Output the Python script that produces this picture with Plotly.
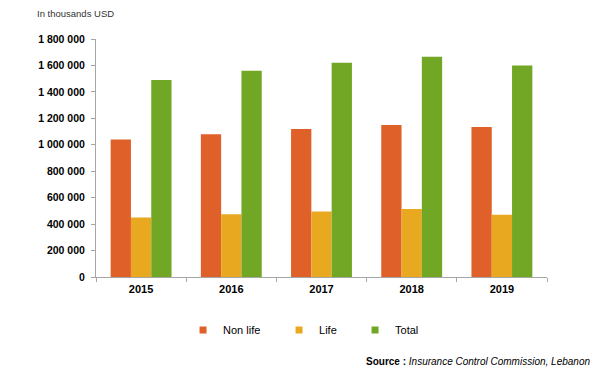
import plotly.graph_objects as go

years = ["2015", "2016", "2017", "2018", "2019"]
non_life = [1040000, 1080000, 1120000, 1150000, 1135000]
life = [450000, 475000, 495000, 515000, 470000]
total = [1490000, 1560000, 1620000, 1665000, 1600000]

series_names = ["Non life", "Life", "Total"]
series_values = [non_life, life, total]
colors = ["#E0602A", "#E8A820", "#72A625"]
legend_widths = [51, 31, None]

FONT = "Liberation Sans, Arial, sans-serif"

fig = go.Figure()
for name, vals, col in zip(series_names, series_values, colors):
    fig.add_trace(go.Bar(
        x=years, y=vals, name=name, marker_color=col,
        marker_line_width=0, showlegend=False, legendgroup=name,
    ))
for name, col, lw in zip(series_names, colors, legend_widths):
    fig.add_trace(go.Scatter(
        x=[None], y=[None], mode="markers", name=name, legendgroup=name,
        marker=dict(symbol="square", size=7, color=col), legendwidth=lw,
    ))

# page body has an 8px default margin: size the figure to fit the window
fig.update_layout(
    width=592, height=363,
    margin=dict(l=88, r=53, t=31, b=94),
    paper_bgcolor="white", plot_bgcolor="white",
    barmode="group", bargap=0.325, bargroupgap=0,
    separators=". ",
    font=dict(family=FONT, size=11, color="#000000"),
    showlegend=True,
    legend=dict(
        orientation="h", x=0.193, xanchor="left", y=-0.223, yanchor="middle",
        font=dict(family=FONT, size=11, color="#000000"),
        itemwidth=30, bgcolor="rgba(0,0,0,0)",
    ),
    xaxis=dict(
        type="category", showline=True, linecolor="#A6A6A6", linewidth=1,
        ticks="outside", ticklen=4, tickcolor="#A6A6A6", tickson="boundaries",
        ticklabelstandoff=2,
        showgrid=False, tickfont=dict(family=FONT, size=11, color="#000000", weight="bold"),
    ),
    yaxis=dict(
        range=[0, 1800000], dtick=200000, tickformat=",d",
        showline=True, linecolor="#A6A6A6", linewidth=1,
        ticks="outside", ticklen=4, tickcolor="#A6A6A6",
        ticklabelstandoff=4,
        showgrid=False, zeroline=False,
        tickfont=dict(family=FONT, size=10.5, color="#000000", weight="bold"),
    ),
    annotations=[
        dict(text="In thousands USD", xref="paper", yref="paper", x=-0.133, y=1.134,
             xanchor="left", yanchor="top", showarrow=False, borderpad=0,
             font=dict(family=FONT, size=9.5, color="#333333")),
        dict(text="<b>Source :</b> <i>Insurance Control Commission, Lebanon</i>",
             xref="paper", yref="paper", x=1.1, y=-0.353,
             xanchor="right", yanchor="middle", showarrow=False,
             font=dict(family=FONT, size=10, color="#000000")),
    ],
)

fig.write_html("out.html")
